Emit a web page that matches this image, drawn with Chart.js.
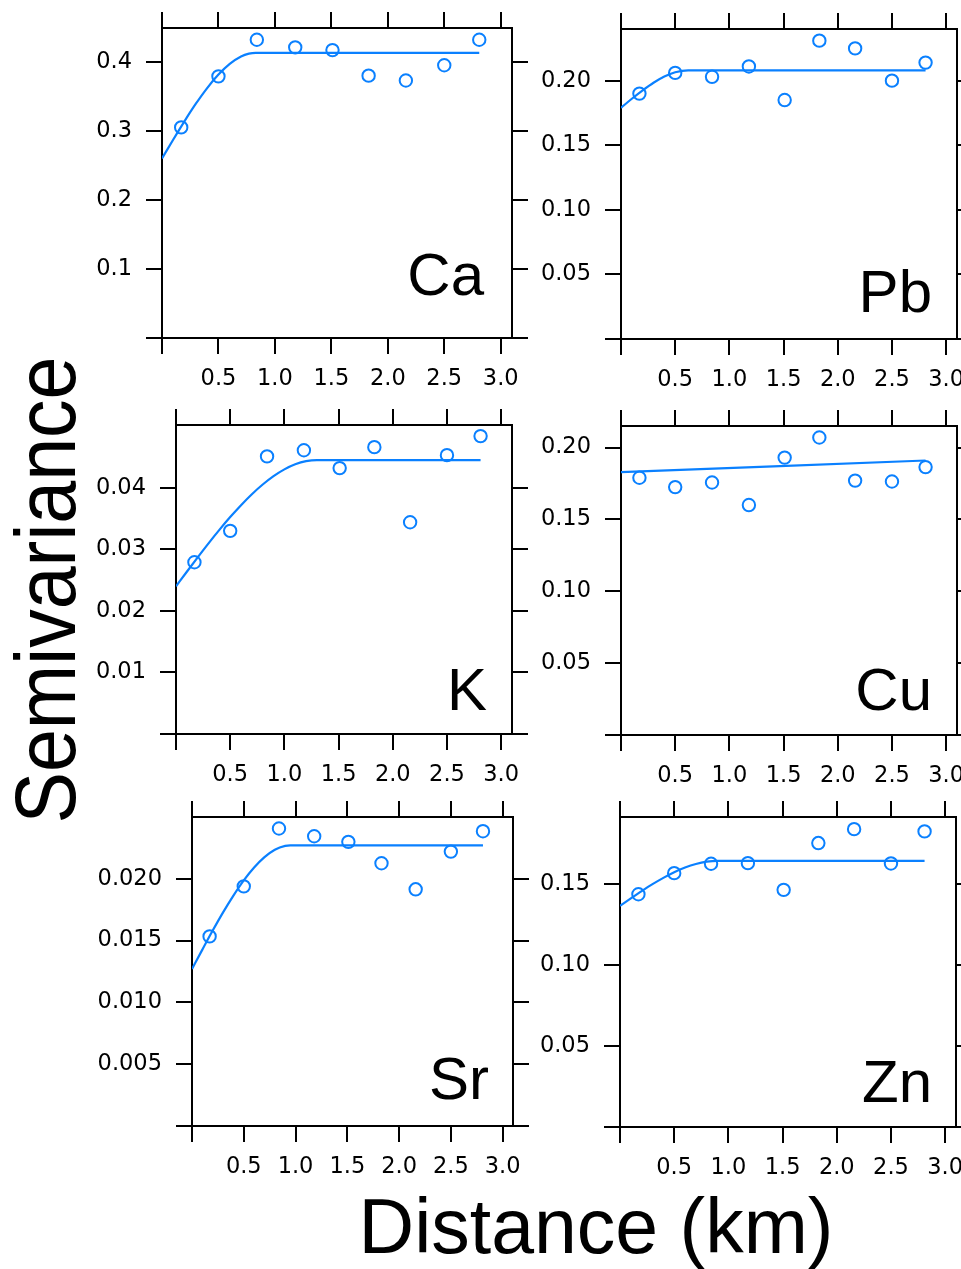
<!DOCTYPE html>
<html>
<head>
<meta charset="utf-8">
<script src="https://cdn.jsdelivr.net/npm/chart.js@4.4.1/dist/chart.umd.min.js"></script>
<style>
  html, body { margin: 0; padding: 0; background: #fff; }
  #page { position: relative; width: 961px; height: 1269px; overflow: hidden; }
  #page canvas { position: absolute; }
  .title { position: absolute; font-family: "Liberation Sans", Arial, sans-serif; color: #000; white-space: nowrap; line-height: 1; }
  #ylab { left: 45px; top: 590px; font-size: 86px; transform: translate(-50%, -50%) rotate(-90deg) scaleX(0.896); }
  #xlab { left: 596px; top: 1188px; font-size: 77px; transform: translateX(-50%); }
</style>
</head>
<body>
<div id="page">
  <div class="title" id="ylab">Semivariance</div>
  <div class="title" id="xlab">Distance (km)</div>
</div>
<script>
// lag distances (km), shared by all six variograms
const lagKm = [0.17, 0.50, 0.84, 1.18, 1.51, 1.83, 2.16, 2.50, 2.81];

// empirical semivariance
const gammaCa = [0.305, 0.379, 0.432, 0.421, 0.417, 0.380, 0.373, 0.395, 0.432];
const gammaPb = [0.190, 0.206, 0.203, 0.211, 0.185, 0.231, 0.225, 0.200, 0.214];
const gammaK  = [0.0279, 0.0330, 0.0451, 0.0461, 0.0432, 0.0466, 0.0344, 0.0453, 0.0484];
const gammaCu = [0.179, 0.1725, 0.1757, 0.160, 0.193, 0.207, 0.177, 0.1764, 0.1864];
const gammaSr = [0.01534, 0.01939, 0.02407, 0.02344, 0.02299, 0.02126, 0.01915, 0.0222, 0.02385];
const gammaZn = [0.1438, 0.1568, 0.1626, 0.163, 0.1465, 0.1754, 0.184, 0.1628, 0.1826];

// fitted model curves
const fitKmCa = [0, 0.1, 0.2, 0.3, 0.4, 0.5, 0.6, 0.7, 0.77, 0.83, 2.81];
const fitCa   = [0.260, 0.2875, 0.3142, 0.3393, 0.362, 0.3815, 0.397, 0.4077, 0.4118, 0.413, 0.413];
const fitKmPb = [0, 0.1, 0.2, 0.3, 0.4, 0.5, 0.62, 2.81];
const fitPb   = [0.179, 0.186, 0.1925, 0.1984, 0.2032, 0.2065, 0.208, 0.208];
const fitKmK  = [0, 0.1, 0.2, 0.3, 0.4, 0.5, 0.6, 0.7, 0.8, 0.9, 1.0, 1.1, 1.2, 1.3, 2.81];
const fitK    = [0.0240, 0.02636, 0.02869, 0.03097, 0.03316, 0.03524, 0.03718, 0.03896, 0.04053, 0.04189, 0.04299, 0.04381, 0.04432, 0.0445, 0.0445];
const fitKmCu = [0, 2.81];
const fitCu   = [0.1829, 0.1910];
const fitKmSr = [0, 0.1, 0.2, 0.3, 0.4, 0.5, 0.6, 0.7, 0.8, 0.9, 0.95, 2.81];
const fitSr   = [0.0127, 0.01427, 0.01581, 0.01728, 0.01864, 0.01987, 0.02091, 0.02175, 0.02235, 0.02266, 0.0227, 0.0227];
const fitKmZn = [0, 0.1, 0.2, 0.3, 0.4, 0.5, 0.6, 0.7, 0.8, 0.9, 2.81];
const fitZn   = [0.1366, 0.1412, 0.1457, 0.1500, 0.1539, 0.1574, 0.1603, 0.1625, 0.1639, 0.1644, 0.1644];

// axes
const xMax = 3.1;
const xTickValues = [0, 0.5, 1.0, 1.5, 2.0, 2.5, 3.0];
const xTickLabels = ['', '0.5', '1.0', '1.5', '2.0', '2.5', '3.0'];
const yMaxCa = 0.449, yMaxPb = 0.240, yMaxK = 0.0502, yMaxCu = 0.215, yMaxSr = 0.0250, yMaxZn = 0.1915;
const yTicksCa = [0, 0.1, 0.2, 0.3, 0.4];
const yLabelsCa = ['', '0.1', '0.2', '0.3', '0.4'];
const yTicksPb = [0, 0.05, 0.10, 0.15, 0.20];
const yLabelsPb = ['', '0.05', '0.10', '0.15', '0.20'];
const yTicksK = [0, 0.01, 0.02, 0.03, 0.04];
const yLabelsK = ['', '0.01', '0.02', '0.03', '0.04'];
const yTicksSr = [0, 0.005, 0.010, 0.015, 0.020];
const yLabelsSr = ['', '0.005', '0.010', '0.015', '0.020'];
const yTicksZn = [0, 0.05, 0.10, 0.15];
const yLabelsZn = ['', '0.05', '0.10', '0.15'];

const blue = '#0a80ff';
const L = 100, T = 16, R = 16, B = 62;

const panelLabel = {
  id: 'panelLabel',
  afterDraw(chart, args, opts) {
    const { ctx, chartArea } = chart;
    ctx.save();
    ctx.font = '60px "Liberation Sans", Arial, sans-serif';
    ctx.fillStyle = '#000';
    ctx.textAlign = 'right';
    ctx.textBaseline = 'alphabetic';
    ctx.fillText(opts.text, chartArea.right - opts.dx, chartArea.bottom - opts.dy);
    ctx.restore();
  }
};

// fixed axis sizes, and no extra room for the end labels
const fixSize = (dim, size) => (s) => {
  s[dim] = size;
  s.paddingTop = 0; s.paddingBottom = 0; s.paddingLeft = 0; s.paddingRight = 0;
};

function drawPanel(p) {
  const page = document.getElementById('page');
  const c = document.createElement('canvas');
  const w = L + p.box[2] + R, h = T + p.box[3] + B;
  c.width = w;
  c.height = h;
  c.style.width = w + 'px';
  c.style.height = h + 'px';
  c.style.left = (p.box[0] - L) + 'px';
  c.style.top = (p.box[1] - T) + 'px';
  page.appendChild(c);

  const setTicks = (vals) => (s) => { s.ticks = vals.map((v) => ({ value: v })); };
  const grid = { drawOnChartArea: false, drawTicks: true, tickLength: 16, color: '#000', lineWidth: 2 };
  const border = { display: true, color: '#000', width: 2 };
  const tickFont = { family: '"DejaVu Sans", sans-serif', size: 22.5 };

  new Chart(c, {
    type: 'scatter',
    data: {
      datasets: [
        {
          data: p.km.map((x, i) => ({ x: x, y: p.gamma[i] })),
          showLine: false,
          pointStyle: 'circle',
          pointRadius: 6.2,
          pointBorderWidth: 2,
          pointBorderColor: blue,
          pointBackgroundColor: 'rgba(0,0,0,0)',
        },
        {
          data: p.fitKm.map((x, i) => ({ x: x, y: p.fit[i] })),
          showLine: true,
          pointRadius: 0,
          borderColor: blue,
          borderWidth: 2.2,
          cubicInterpolationMode: 'monotone',
        },
      ],
    },
    options: {
      responsive: false,
      animation: false,
      events: [],
      devicePixelRatio: 1,
      layout: { padding: 0 },
      plugins: {
        legend: { display: false },
        tooltip: { enabled: false },
        panelLabel: { text: p.label, dx: p.dx, dy: p.dy },
      },
      scales: {
        x: {
          type: 'linear', position: 'bottom', min: 0, max: xMax,
          afterBuildTicks: setTicks(xTickValues),
          afterFit: fixSize('height', B),
          ticks: { callback: (v, i) => xTickLabels[i], autoSkip: false, maxRotation: 0, minRotation: 0, color: '#000', padding: 12, font: tickFont },
          grid: grid, border: border,
        },
        x2: {
          type: 'linear', position: 'top', min: 0, max: xMax,
          afterBuildTicks: setTicks(xTickValues),
          afterFit: fixSize('height', T),
          ticks: { display: false },
          grid: grid, border: border,
        },
        y: {
          type: 'linear', position: 'left', min: 0, max: p.yMax,
          afterBuildTicks: setTicks(p.yTicks),
          afterFit: fixSize('width', L),
          ticks: { callback: (v, i) => p.yLabels[i], autoSkip: false, color: '#000', padding: 14, font: tickFont },
          grid: grid, border: border,
        },
        y2: {
          type: 'linear', position: 'right', min: 0, max: p.yMax,
          afterBuildTicks: setTicks(p.yTicks),
          afterFit: fixSize('width', R),
          ticks: { display: false },
          grid: grid, border: border,
        },
      },
    },
    plugins: [panelLabel],
  });
}

drawPanel({ box: [162, 28, 350, 310], km: lagKm, gamma: gammaCa, fitKm: fitKmCa, fit: fitCa, yMax: yMaxCa, yTicks: yTicksCa, yLabels: yLabelsCa, label: 'Ca', dx: 28, dy: 43 });
drawPanel({ box: [621, 29, 336, 310], km: lagKm, gamma: gammaPb, fitKm: fitKmPb, fit: fitPb, yMax: yMaxPb, yTicks: yTicksPb, yLabels: yLabelsPb, label: 'Pb', dx: 25, dy: 27 });
drawPanel({ box: [176, 425, 336, 309], km: lagKm, gamma: gammaK, fitKm: fitKmK, fit: fitK, yMax: yMaxK, yTicks: yTicksK, yLabels: yLabelsK, label: 'K', dx: 25, dy: 24 });
drawPanel({ box: [621, 426, 336, 309], km: lagKm, gamma: gammaCu, fitKm: fitKmCu, fit: fitCu, yMax: yMaxCu, yTicks: yTicksPb, yLabels: yLabelsPb, label: 'Cu', dx: 25, dy: 25 });
drawPanel({ box: [192, 817, 321, 309], km: lagKm, gamma: gammaSr, fitKm: fitKmSr, fit: fitSr, yMax: yMaxSr, yTicks: yTicksSr, yLabels: yLabelsSr, label: 'Sr', dx: 24, dy: 27 });
drawPanel({ box: [620, 817, 336, 310], km: lagKm, gamma: gammaZn, fitKm: fitKmZn, fit: fitZn, yMax: yMaxZn, yTicks: yTicksZn, yLabels: yLabelsZn, label: 'Zn', dx: 24, dy: 25 });
</script>
</body>
</html>
